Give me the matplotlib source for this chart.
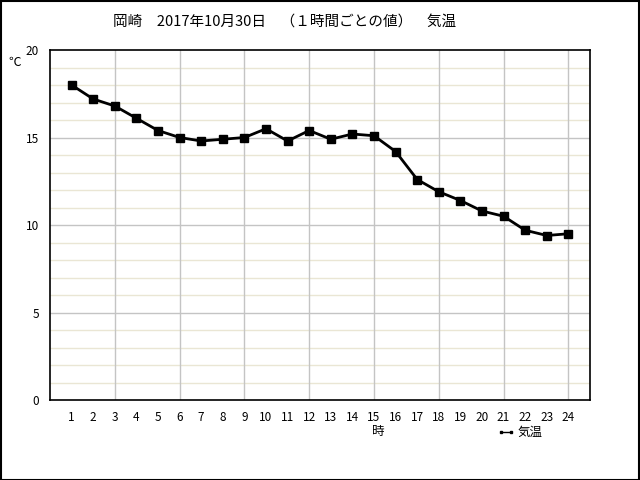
import numpy as np
import matplotlib.pyplot as plt
from matplotlib.patches import Rectangle
from matplotlib.lines import Line2D

plt.rcParams['font.family'] = ['Noto Sans CJK JP', 'DejaVu Sans']

hours = list(range(1, 25))
temps = [18.0, 17.2, 16.8, 16.1, 15.4, 15.0, 14.8, 14.9, 15.0, 15.5, 14.8, 15.4,
         14.9, 15.2, 15.1, 14.2, 12.6, 11.9, 11.4, 10.8, 10.5, 9.7, 9.4, 9.5]

title = '岡崎　2017年10月30日　（１時間ごとの値）　気温'

fig = plt.figure(figsize=(6.4, 4.8), dpi=100)
ax = fig.add_axes([50/640, 80/480, 540/640, 350/480])

ax.set_xlim(0, 25)
ax.set_ylim(0, 20)

# minor grid every 1 degree (beige), major every 5 (gray)
for v in range(1, 20):
    if v % 5 != 0:
        ax.axhline(v, color='#eae6d4', lw=1, zorder=0)
for v in [5, 10, 15]:
    ax.axhline(v, color='#c4c4c4', lw=1, zorder=0)
for h in range(3, 25, 3):
    ax.axvline(h, color='#c4c4c4', lw=1, zorder=0)

ax.plot(hours, temps, color='black', lw=2, marker='s', ms=6, zorder=3)

ax.set_xticks(hours)
ax.set_xticklabels([str(h) for h in hours], fontsize=8.5)
ax.set_yticks([0, 5, 10, 15, 20])
ax.set_yticklabels(['0', '5', '10', '15', '20'], fontsize=8.5)
ax.tick_params(length=0, pad=8)
for s in ax.spines.values():
    s.set_color('black')
    s.set_linewidth(1.2)

fig.text(285/640, 1 - 22/480, title, ha='center', va='center', fontsize=10.5)
fig.text(15/640, 1 - 62/480, '℃', ha='center', va='center', fontsize=9)
fig.text(378/640, 1 - 432/480, '時', ha='center', va='center', fontsize=9)

# legend
fig.add_artist(Line2D([501/640, 511/640], [1 - 432/480, 1 - 432/480],
                      color='black', lw=1.0, marker='s', ms=2,
                      markevery=[0, 1]))
fig.text(518/640, 1 - 432/480, '気温', ha='left', va='center', fontsize=9)

# outer border
fig.add_artist(Rectangle((0.001, 0.001), 0.997, 0.997, transform=fig.transFigure,
                         fill=False, edgecolor='black', lw=1.5))

fig.savefig('out.png', dpi=100)
